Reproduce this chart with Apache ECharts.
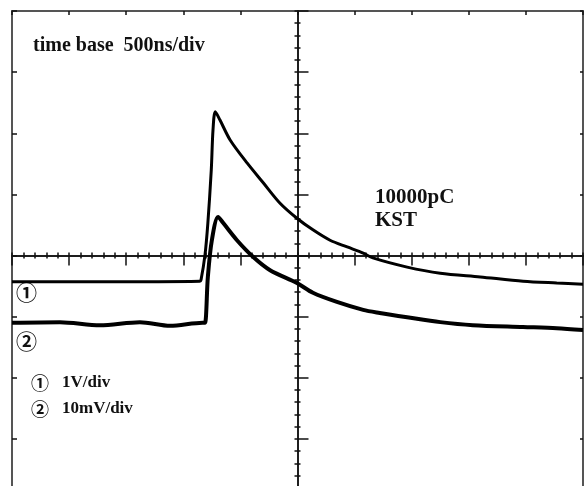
<!DOCTYPE html>
<html>
<head>
<meta charset="utf-8">
<script src="https://cdn.jsdelivr.net/npm/echarts@6.0.0/dist/echarts.min.js"></script>
<style>
  html, body { margin: 0; padding: 0; background: #fff; }
  #scope { width: 586px; height: 486px; }
</style>
</head>
<body>
<div id="scope"></div>
<script>
// screen divisions (x: 500ns/div, y: 1 div)
const ch1Time = [-5.0, -3.46, -1.71, -1.69, -1.62, -1.57, -1.51, -1.48, -1.44, -1.36, -1.18, -0.88, -0.60, -0.31, -0.01, 0.27, 0.57, 0.87, 1.15, 1.32, 1.92, 2.50, 3.20, 3.95, 4.54, 5.0]
const ch1Div = [-0.43, -0.43, -0.42, -0.40, 0.01, 0.53, 1.40, 2.05, 2.35, 2.22, 1.89, 1.51, 1.19, 0.86, 0.61, 0.42, 0.25, 0.14, 0.04, -0.04, -0.19, -0.29, -0.35, -0.42, -0.45, -0.47]

const ch2Time = [-5.0, -4.16, -3.46, -2.76, -2.23, -1.66, -1.62, -1.57, -1.50, -1.39, -1.30, -1.06, -0.78, -0.48, -0.01, 0.27, 0.69, 1.15, 1.44, 1.92, 2.50, 3.07, 3.95, 4.54, 5.0]
const ch2Div = [-1.10, -1.09, -1.14, -1.09, -1.15, -1.10, -1.10, -0.35, 0.25, 0.63, 0.53, 0.25, -0.02, -0.24, -0.45, -0.61, -0.76, -0.89, -0.94, -1.01, -1.09, -1.14, -1.17, -1.19, -1.22]

const zip = (xs, ys) => xs.map((x, i) => [x, ys[i]])

const chart = echarts.init(document.getElementById('scope'))

const hidden = {
  axisLabel: {show: false},
  splitLine: {show: false}
}
const ink = '#111'

function scopeAxis (range, position, onZero, tick, minor) {
  return Object.assign({
    type: 'value',
    min: -range,
    max: range,
    interval: 1,
    position: position,
    axisLine: {show: onZero, onZero: onZero, lineStyle: {color: ink, width: 1.5}},
    axisTick: Object.assign({show: true, lineStyle: {color: ink, width: 1.5}}, tick),
    minorTick: minor
      ? Object.assign({show: true, splitNumber: 5, lineStyle: {color: ink, width: 1.5}}, minor)
      : {show: false}
  }, hidden)
}

const serif = '"Liberation Serif", "DejaVu Serif", serif'
const circled = '"Noto Sans CJK SC", "DejaVu Sans", sans-serif'

function label (text, x, y, size, family) {
  return {
    type: 'text',
    x: x,
    y: y,
    style: {
      text: text,
      fill: ink,
      font: 'bold ' + size + 'px ' + (family || serif),
      verticalAlign: 'middle'
    }
  }
}

chart.setOption({
  animation: false,
  backgroundColor: '#fff',
  grid: {
    left: 12,
    top: 11,
    width: 571,
    height: 489,
    outerBoundsMode: 'none',
    show: true,
    borderColor: '#555',
    borderWidth: 2
  },
  xAxis: [
    scopeAxis(5, 'bottom', true, {inside: false, length: 10}, {length: 3}),
    scopeAxis(5, 'top', true, {inside: false, length: 3}, {length: 3}),
    scopeAxis(5, 'top', false, {inside: true, length: 4})
  ],
  yAxis: [
    scopeAxis(4, 'left', true, {inside: true, length: 11}, {length: 3}),
    scopeAxis(4, 'right', true, {inside: true, length: 3}, {length: 3}),
    scopeAxis(4, 'left', false, {inside: true, length: 5}),
    scopeAxis(4, 'right', false, {inside: true, length: 3})
  ],
  graphic: [
    label('time base  500ns/div', 33, 46, 20),
    label('10000pC', 375, 198, 21),
    label('KST', 375, 221, 21),
    label('①', 16, 292, 21, circled),
    label('②', 16, 341, 21, circled),
    label('①', 31, 383, 18, circled),
    label('1V/div', 62, 383, 17),
    label('②', 31, 409, 18, circled),
    label('10mV/div', 62, 409, 17)
  ],
  series: [
    {
      name: 'ch1',
      type: 'line',
      showSymbol: false,
      smooth: 0.3,
      lineStyle: {color: '#000', width: 3},
      data: zip(ch1Time, ch1Div)
    },
    {
      name: 'ch2',
      type: 'line',
      showSymbol: false,
      smooth: 0.3,
      lineStyle: {color: '#000', width: 4},
      data: zip(ch2Time, ch2Div)
    }
  ]
})
</script>
</body>
</html>
